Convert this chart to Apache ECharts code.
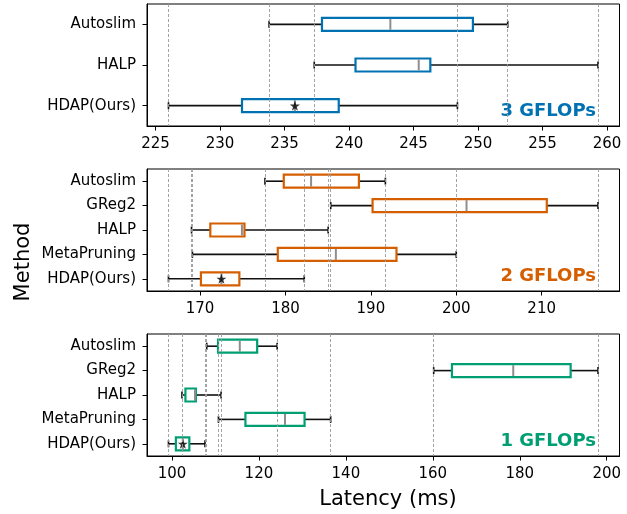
<!DOCTYPE html>
<html>
<head>
<meta charset="utf-8">
<script src="https://cdn.jsdelivr.net/npm/echarts@6/dist/echarts.min.js"></script>
<style>
html,body{margin:0;padding:0;background:#fff;}
#chart{width:627px;height:514px;}
</style>
</head>
<body>
<div id="chart"></div>
<script>
// ---- Data (whisker low, Q1, median, Q3, whisker high) ----
const methods3G = ['Autoslim', 'HALP', 'HDAP(Ours)'];
const stats3G = [
  [233.8, 237.9, 243.2, 249.6, 252.3],
  [237.3, 240.5, 245.4, 246.3, 259.3],
  [226.0, 231.7, 235.8, 239.2, 248.4]
];
const methods2G = ['Autoslim', 'GReg2', 'HALP', 'MetaPruning', 'HDAP(Ours)'];
const stats2G = [
  [177.6, 179.8, 183.0, 188.6, 191.7],
  [185.3, 190.2, 201.2, 210.6, 216.6],
  [169.0, 171.2, 174.9, 175.2, 185.0],
  [169.1, 179.1, 185.9, 193.0, 200.0],
  [166.3, 170.1, 172.5, 174.6, 182.2]
];
const methods1G = ['Autoslim', 'GReg2', 'HALP', 'MetaPruning', 'HDAP(Ours)'];
const stats1G = [
  [108.0, 110.6, 115.6, 119.6, 124.2],
  [160.2, 164.4, 178.5, 191.7, 198.0],
  [102.3, 103.1, 105.3, 105.5, 111.3],
  [110.7, 116.9, 126.0, 130.5, 136.5],
  [99.2, 100.9, 102.5, 104.0, 107.6]
];
const ticks3G = [225, 230, 235, 240, 245, 250, 255, 260];
const ticks2G = [170, 180, 190, 200, 210];
const ticks1G = [100, 120, 140, 160, 180, 200];
const panelLabels = ['3 GFLOPs', '2 GFLOPs', '1 GFLOPs'];
const oursName = 'HDAP(Ours)';

// ---- Styling ----
const FONT = 'DejaVu Sans';
const colors = ['#0072B2', '#D55E00', '#009E73'];
const panels = [
  {methods: methods3G, stats: stats3G, ticks: ticks3G, top: 4},
  {methods: methods2G, stats: stats2G, ticks: ticks2G, top: 169},
  {methods: methods1G, stats: stats1G, ticks: ticks1G, top: 334}
];
const GRID_LEFT = 147, GRID_W = 472.5, GRID_H = 122;
const starPath = 'path://M50,0 L61,35 L98,35 L68,57 L79,91 L50,70 L21,91 L32,57 L2,35 L39,35 Z';

function boxRenderer(color) {
  return function (params, api) {
    const c = api.value(0);
    const lo = api.coord([api.value(1), c]);
    const q1 = api.coord([api.value(2), c]);
    const md = api.coord([api.value(3), c]);
    const q3 = api.coord([api.value(4), c]);
    const hi = api.coord([api.value(5), c]);
    const y = lo[1];
    const bh = 13, ch = 3.5;
    const wl = {stroke: '#111', lineWidth: 1.6};
    return {
      type: 'group',
      children: [
        {type: 'line', shape: {x1: lo[0], y1: y, x2: q1[0], y2: y}, style: wl},
        {type: 'line', shape: {x1: q3[0], y1: y, x2: hi[0], y2: y}, style: wl},
        {type: 'line', shape: {x1: lo[0], y1: y - ch, x2: lo[0], y2: y + ch}, style: wl},
        {type: 'line', shape: {x1: hi[0], y1: y - ch, x2: hi[0], y2: y + ch}, style: wl},
        {type: 'rect', shape: {x: q1[0], y: y - bh / 2, width: q3[0] - q1[0], height: bh},
          style: {fill: '#fff', stroke: color, lineWidth: 2.2}},
        {type: 'line', shape: {x1: md[0], y1: y - bh / 2 + 1, x2: md[0], y2: y + bh / 2 - 1},
          style: {stroke: '#8e8e8e', lineWidth: 2}}
      ]
    };
  };
}

const grid = [], xAxis = [], yAxis = [], series = [], graphic = [];
panels.forEach((p, i) => {
  const all = p.stats.flat();
  const dmin = Math.min(...all), dmax = Math.max(...all);
  const pad = (dmax - dmin) * 0.05;
  grid.push({left: GRID_LEFT, top: p.top, width: GRID_W, height: GRID_H,
    show: true, borderColor: '#000', borderWidth: 1, backgroundColor: 'transparent'});
  xAxis.push({
    type: 'value', gridIndex: i, min: dmin - pad, max: dmax + pad,
    splitLine: {show: false},
    axisLine: {show: true, lineStyle: {color: '#000', width: 1}},
    axisTick: {show: true, inside: false, length: 4.5, lineStyle: {color: '#000'}, customValues: p.ticks},
    axisLabel: {customValues: p.ticks, color: '#000', fontSize: 15, fontFamily: FONT, margin: 11}
  });
  yAxis.push({
    type: 'category', gridIndex: i, data: p.methods, inverse: true,
    axisLine: {show: true, lineStyle: {color: '#000', width: 1}},
    axisTick: {show: true, alignWithLabel: true, length: 4.5, lineStyle: {color: '#000'}},
    axisLabel: {color: '#000', fontSize: 15, fontFamily: FONT, margin: 11},
    splitLine: {show: false}
  });
  // dashed reference lines at whisker ends
  const refs = [];
  p.stats.forEach(s => { refs.push({xAxis: s[0]}); refs.push({xAxis: s[4]}); });
  series.push({
    type: 'line', xAxisIndex: i, yAxisIndex: i, data: [], z: 1, silent: true,
    markLine: {
      silent: true, symbol: ['none', 'none'], label: {show: false},
      lineStyle: {color: '#9a9a9a', width: 0.9, type: [3, 2]},
      emphasis: {disabled: true},
      data: refs, animation: false
    }
  });
  series.push({
    type: 'custom', xAxisIndex: i, yAxisIndex: i, z: 2,
    renderItem: boxRenderer(colors[i]),
    encode: {x: [1, 2, 3, 4, 5], y: 0},
    data: p.stats.map((s, k) => [k].concat(s))
  });
  const oi = p.methods.indexOf(oursName);
  series.push({
    type: 'scatter', xAxisIndex: i, yAxisIndex: i, z: 3,
    symbol: starPath, symbolSize: 10,
    itemStyle: {color: '#000'},
    data: [[p.stats[oi][2], oi]]
  });
  graphic.push({
    type: 'text', right: 627 - 596, top: p.top + 98,
    style: {text: panelLabels[i], fill: colors[i], font: 'bold 18px "DejaVu Sans"'}
  });
});

graphic.push({
  type: 'text', x: 388, y: 500,
  style: {text: 'Latency (ms)', fill: '#000', font: '21px "DejaVu Sans"', align: 'center', verticalAlign: 'middle'}
});
graphic.push({
  type: 'text', x: 24, y: 262, rotation: Math.PI / 2,
  style: {text: 'Method', fill: '#000', font: '21px "DejaVu Sans"', align: 'center', verticalAlign: 'middle'}
});

const chart = echarts.init(document.getElementById('chart'));
chart.setOption({
  animation: false,
  grid, xAxis, yAxis, series, graphic
});
</script>
</body>
</html>
